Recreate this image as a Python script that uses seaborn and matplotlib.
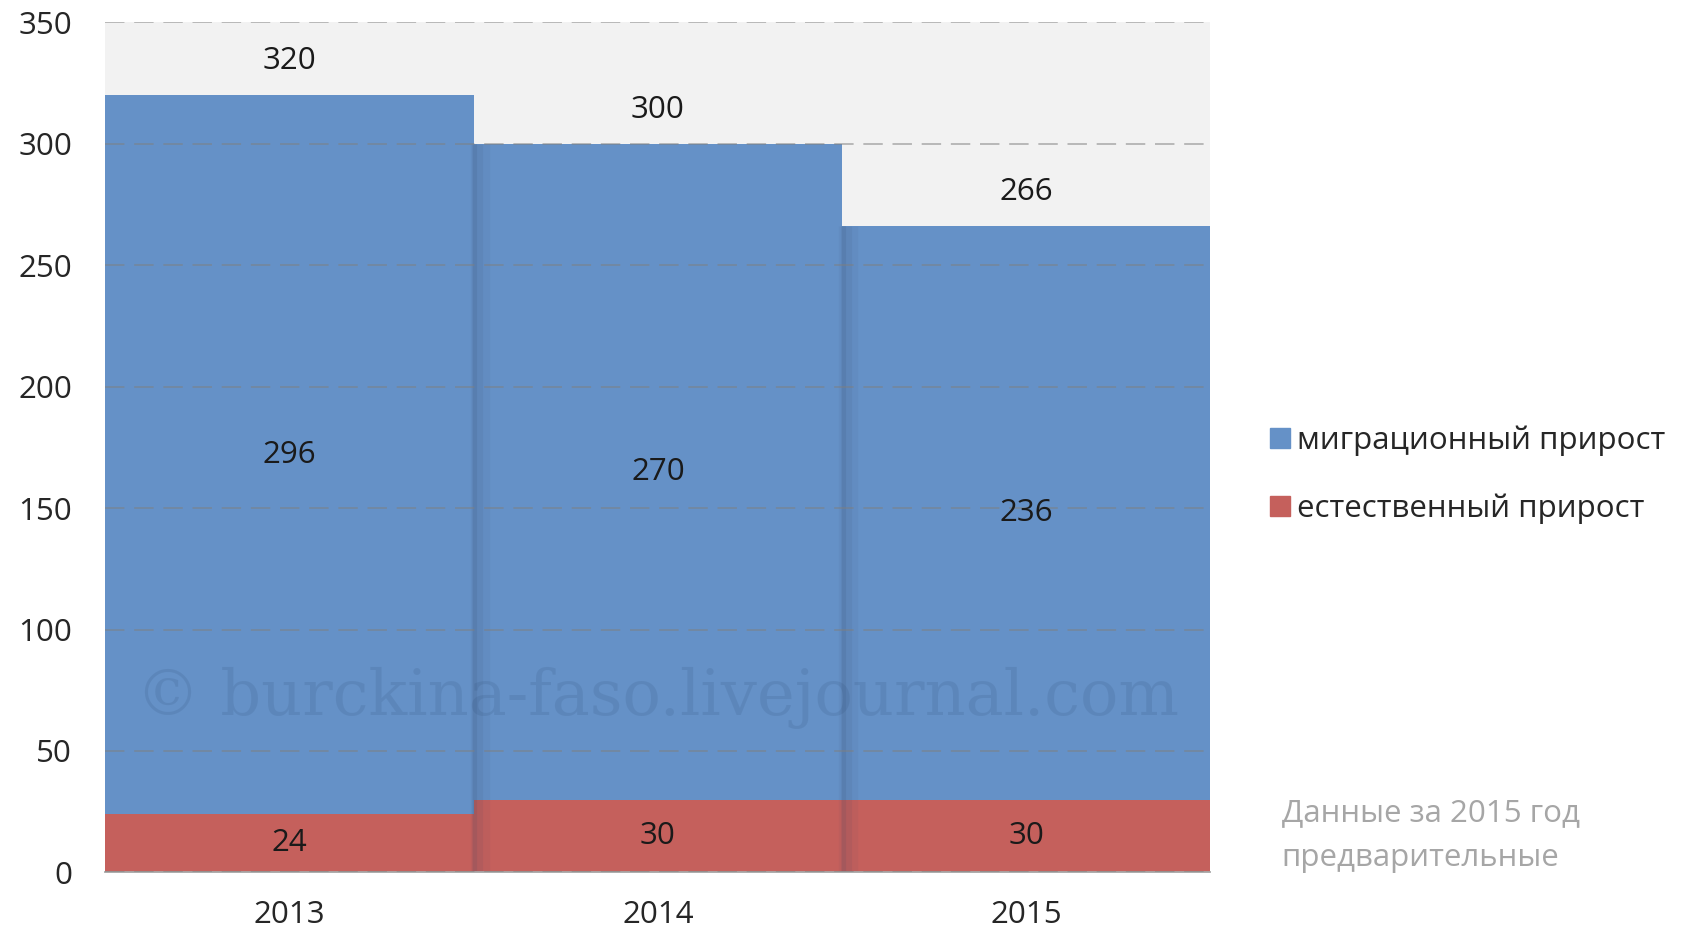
import pandas as pd
import matplotlib.pyplot as plt
import seaborn as sns

# Data
years = ['2013', '2014', '2015']
migration = [296, 270, 236]
natural = [24, 30, 30]
totals = [m + n for m, n in zip(migration, natural)]

mig_label = 'миграционный прирост'
nat_label = 'естественный прирост'
note_text = 'Данные за 2015 год\nпредварительные'
watermark = '© burckina-faso.livejournal.com'

BLUE = '#6591c7'
RED = '#c5605c'
BG = '#f2f2f2'
FS = 22.5

sns.set_style('white')
plt.rcParams['font.family'] = ['Open Sans', 'DejaVu Sans']

df = pd.DataFrame({'year': years, 'migration': migration,
                   'natural': natural, 'total': totals})

fig = plt.figure(figsize=(17, 9.36), dpi=100)
ax = fig.add_axes([0.062, 0.068, 0.650, 0.908])
ax.set_facecolor(BG)

# blue = full height, red drawn over the lower part
sns.barplot(data=df, x='year', y='total', color=BLUE, width=1.0,
            saturation=1, errorbar=None, linewidth=0, ax=ax)
sns.barplot(data=df, x='year', y='natural', color=RED, width=1.0,
            saturation=1, errorbar=None, linewidth=0, ax=ax)

ax.set_xlim(-0.5, 2.5)
ax.set_ylim(0, 350)
ax.set_yticks(range(0, 351, 50))
ax.set_xlabel('')
ax.set_ylabel('')

# soft shadow on the left edge of each following bar
for i in range(1, len(years)):
    edge = i - 0.5
    for off, lw, a in [(0.016, 14, 0.05), (0.010, 8, 0.07), (0.004, 3, 0.10)]:
        ax.vlines(edge + off, 0, totals[i], color='#2b3f5c', lw=lw, alpha=a, zorder=1.5)

# dashed grid drawn over the bars
ax.set_axisbelow(False)
ax.yaxis.grid(True, color='#7f7f7f', alpha=0.5, lw=1.4, linestyle=(0, (10, 5)))
ax.xaxis.grid(False)

for s in ['left', 'top', 'right']:
    ax.spines[s].set_visible(False)
ax.spines['bottom'].set_color('#a6a6a6')
ax.spines['bottom'].set_linewidth(1.3)

ax.tick_params(axis='y', length=0, pad=24, labelsize=FS, labelcolor='#262626')
ax.tick_params(axis='x', which='major', length=0, pad=20, labelsize=FS, labelcolor='#262626')
ax.set_xticks([i - 0.5 for i in range(len(years) + 1)], minor=True)
ax.tick_params(axis='x', which='minor', length=9, width=1.3, color='#a6a6a6')

# value labels
for i in range(len(years)):
    ax.text(i, totals[i] + 14, str(totals[i]), ha='center', va='center',
            fontsize=FS, color='#1a1a1a')
    ax.text(i, natural[i] + migration[i] / 2, str(migration[i]), ha='center',
            va='center', fontsize=FS, color='#1a1a1a')
    ax.text(i, natural[i] / 2, str(natural[i]), ha='center', va='center',
            fontsize=FS, color='#1a1a1a')

# watermark
ax.text(1.0, 72, watermark, ha='center', va='center', fontsize=46,
        family=['DejaVu Serif'], color='#2e4d75', alpha=0.15, zorder=4)

# legend
handles = [plt.Line2D([], [], marker='s', ls='', markersize=15, color=BLUE),
           plt.Line2D([], [], marker='s', ls='', markersize=15, color=RED)]
fig.legend(handles, [mig_label, nat_label], loc='upper left',
           bbox_to_anchor=(0.727, 0.575), frameon=False, fontsize=FS,
           handletextpad=0.05, labelspacing=1.18, handlelength=1.0)

fig.text(0.754, 0.107, note_text, ha='left', va='center', fontsize=FS,
         color='#a6a6a6', linespacing=1.65)

fig.savefig('out.png', dpi=100)
